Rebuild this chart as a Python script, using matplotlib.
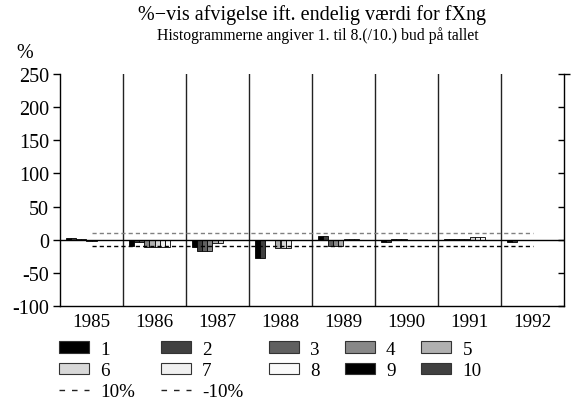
import matplotlib
matplotlib.use("Agg")
import matplotlib.pyplot as plt
import numpy as np
from matplotlib.patches import Patch
from matplotlib.lines import Line2D

plt.rcParams['font.family'] = ['Liberation Serif', 'DejaVu Serif']

years = ["1985", "1986", "1987", "1988", "1989", "1990", "1991", "1992"]
bud1 = [2.5, -10, -11, -28, 6, -4, 1, -4]
bud2 = [2.5, -3, -17, -28, 6, -4, 1, -4]
bud3 = [1, -3, -17, -1, -9, 1, 0.5, 0]
bud4 = [1, -11, -17, -1, -9, 1, 0.5, 0]
bud5 = [-2, -11, -5, -13, -9, 1, 0.5, 0]
bud6 = [-2, -11, -5, -13, 1, 0, 4, 0]
bud7 = [-1, -11, -1, -13, 1, 0, 4, 0]
bud8 = [-1, -11, -1, -1, 1, 0, 4, 0]
bud9 = [0, 0, 0, 0, 0, 0, 0, 0]
bud10 = [0, 0, 0, 0, 0, 0, 0, 0]
series = [bud1, bud2, bud3, bud4, bud5, bud6, bud7, bud8, bud9, bud10]
labels = ["1", "2", "3", "4", "5", "6", "7", "8", "9", "10"]
colors = ["#000000", "#404040", "#606060", "#888888", "#b0b0b0",
          "#d8d8d8", "#f0f0f0", "#fafafa", "#000000", "#404040"]
upper_ref = 10
lower_ref = -10

FS = 13.7
FSY = 14.5

fig = plt.figure(figsize=(5.78, 4.06), dpi=100)
ax = fig.add_axes([60/578, 1-307/406, 504/578, 232/406])

x = np.arange(len(years))
w = 0.081
n = len(series)
for j, vals in enumerate(series):
    v = np.array(vals, dtype=float)
    ax.bar(x + (j - (n - 1) / 2) * w, v, width=w, color=colors[j],
           edgecolor="#000000", linewidth=0.6, zorder=3)

ax.axhline(0, color="black", lw=1.0, zorder=4)
for b in np.arange(0.5, len(years) - 0.5, 1):
    ax.axvline(b, color="#222222", lw=1.0, zorder=2)
ax.plot([x[0], x[-1]], [upper_ref, upper_ref], color="#808080", lw=1.0,
        dashes=(3, 2.2), zorder=5)
ax.plot([x[0], x[-1]], [lower_ref, lower_ref], color="black", lw=1.0,
        dashes=(3, 2.2), zorder=5)

ax.set_xlim(-0.5, len(years) - 0.5)
ax.set_ylim(-100, 250)
ax.set_yticks(np.arange(-100, 251, 50))
ax.set_yticklabels([str(t) for t in range(-100, 251, 50)])
ax.set_xticks(x)
ax.set_xticklabels(years)
ax.tick_params(axis='x', length=0, pad=5, labelsize=FS)
ax.tick_params(axis='y', direction='out', length=5, width=1, pad=3, labelsize=FSY,
               right=True)
ax.spines['top'].set_visible(False)
for s in ['left', 'bottom', 'right']:
    ax.spines[s].set_linewidth(1.0)

for t in ax.yaxis.get_major_ticks():
    t.tick2line.set_marker(matplotlib.lines.TICKLEFT)
    t.tick2line.set_markersize(4)

# small outward cap at top of right spine
ax.plot([1.0, 1.0 + 6/504], [1.0, 1.0], transform=ax.transAxes, color="black",
        lw=1.0, clip_on=False, solid_capstyle='butt')

fig.text(312/578, 1-15/406, "%\u2212vis afvigelse ift. endelig værdi for fXng",
         ha='center', va='center', fontsize=14.5)
fig.text(318/578, 1-36/406, "Histogrammerne angiver 1. til 8.(/10.) bud på tallet",
         ha='center', va='center', fontsize=11.3)
fig.text(16/578, 1-53/406, "%", ha='left', va='center', fontsize=FSY)

handles = [Patch(facecolor=colors[i], edgecolor="#333333", linewidth=0.8)
           for i in range(n)]
h10 = Line2D([], [], color="#222222", lw=1.0, dashes=(4, 5))
hm10 = Line2D([], [], color="#222222", lw=1.0, dashes=(4, 5))
order_h = [handles[0], handles[5], h10,
           handles[1], handles[6], hm10,
           handles[2], handles[7],
           handles[3], handles[8],
           handles[4], handles[9]]
order_l = ["1", "6", "10%", "2", "7", "-10%", "3", "8", "4", "9", "5", "10"]
fig.legend(order_h, order_l, ncol=5, loc='upper left',
           bbox_to_anchor=(59/578, 1-342/406), frameon=False,
           fontsize=FS, handlelength=1.58, handleheight=0.58,
           handletextpad=0.58, columnspacing=1.35, labelspacing=0.22,
           borderpad=0, borderaxespad=0)

fig.savefig("out.png", dpi=100)
